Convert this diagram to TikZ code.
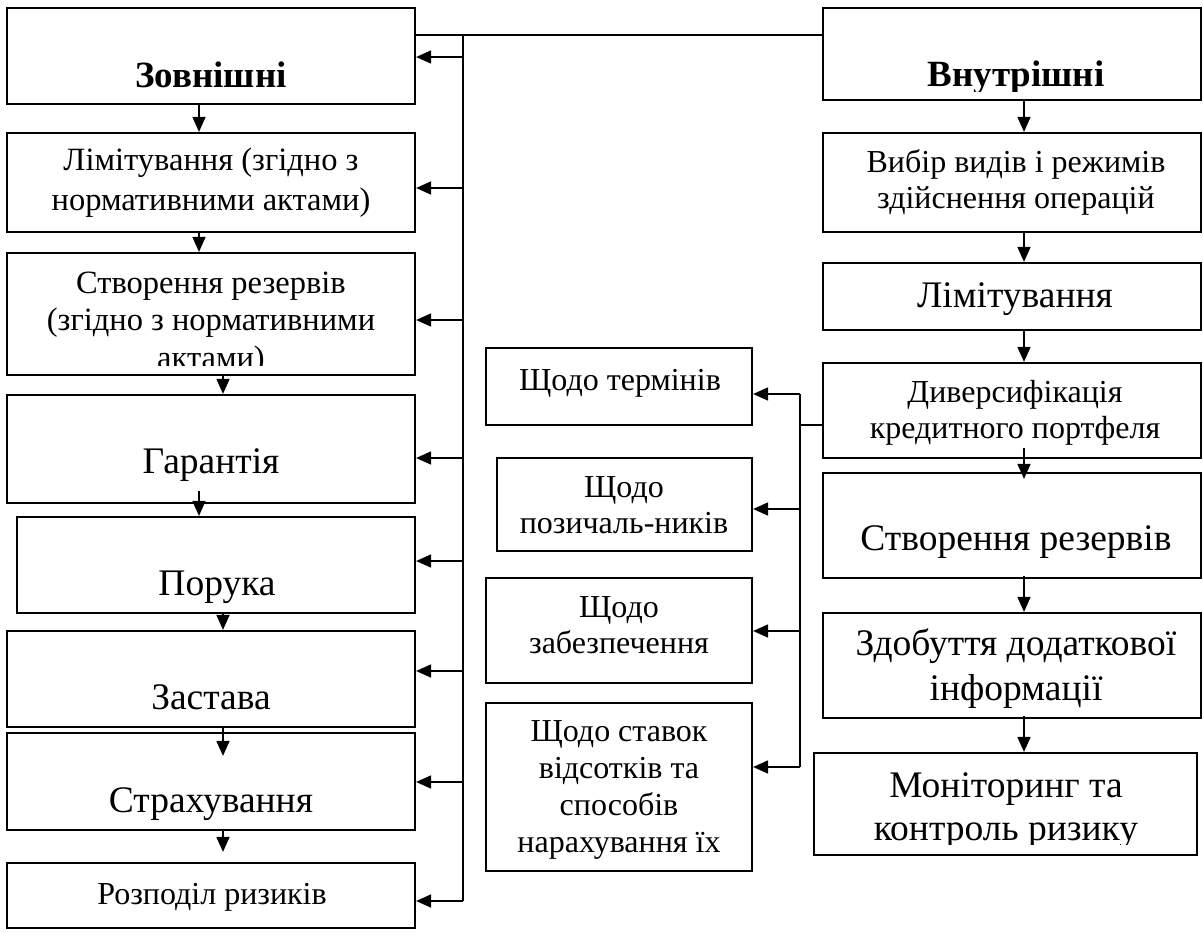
\documentclass[tikz,border=0pt]{standalone}
\usepackage{fontspec}
\setmainfont{Liberation Serif}
\usetikzlibrary{arrows.meta,calc}
\newcommand\myfs[2]{\fontsize{#1}{#2}\selectfont}
\tikzset{
  box/.style={draw, line width=2.2pt, inner sep=0pt},
  txt/.style={anchor=base, align=center, inner sep=0pt},
  ln/.style={line width=1.6pt},
  arr/.style={line width=1.6pt, -{Triangle[length=15pt,width=13pt]}},
}
\begin{document}
\begin{tikzpicture}[x=1pt,y=-1pt]
\useasboundingbox[fill=white] (0,0) rectangle (1203,932);
% left column boxes
\node[box, minimum width=408pt, minimum height=96pt]  (L1) at (211,56) {};
\node[box, minimum width=408pt, minimum height=99pt]  (L2) at (211,182.5) {};
\node[box, minimum width=408pt, minimum height=122pt] (L3) at (211,314) {};
\node[box, minimum width=408pt, minimum height=108pt] (L4) at (211,449) {};
\node[box, minimum width=398pt, minimum height=96pt]  (L5) at (216,565) {};
\node[box, minimum width=408pt, minimum height=96pt]  (L6) at (211,679) {};
\node[box, minimum width=408pt, minimum height=97pt]  (L7) at (211,781.5) {};
\node[box, minimum width=408pt, minimum height=65pt]  (L8) at (211,895.5) {};
% right column boxes
\node[box, minimum width=378pt, minimum height=92pt]  (R1) at (1012,54) {};
\node[box, minimum width=378pt, minimum height=99pt]  (R2) at (1012,182.5) {};
\node[box, minimum width=378pt, minimum height=67pt]  (R3) at (1012,296.5) {};
\node[box, minimum width=378pt, minimum height=95pt]  (R4) at (1012,410.5) {};
\node[box, minimum width=378pt, minimum height=105pt] (R5) at (1012,525.5) {};
\node[box, minimum width=378pt, minimum height=105pt] (R6) at (1012,665.5) {};
\node[box, minimum width=383pt, minimum height=102pt] (R7) at (1005.5,804) {};
% middle boxes
\node[box, minimum width=266pt, minimum height=77pt]  (S1) at (619,386.5) {};
\node[box, minimum width=255pt, minimum height=93pt]  (S2) at (624.5,504.5) {};
\node[box, minimum width=266pt, minimum height=105pt] (S3) at (619,630.5) {};
\node[box, minimum width=266pt, minimum height=168pt] (S4) at (619,787) {};

% texts (base anchor = baseline of the last line)
\begin{scope}
\clip (L1.north west) rectangle ($(L1.south east)+(0,-8)$);
\node[txt, font=\bfseries\myfs{37}{42}] (L1t) at (211,87) {Зовнішні};
\end{scope}
\node[txt, font=\myfs{32.5}{40}] (L2t) at (211,210) {Лімітування (згідно з\\нормативними актами)};
\begin{scope}
\clip (L3.north west) rectangle ($(L3.south east)+(0,-11)$);
\node[txt, font=\myfs{32.5}{37.5}] (L3t) at (211,368) {Створення резервів\\(згідно з нормативними\\актами)};
\end{scope}
\node[txt, font=\myfs{37.5}{44}] (L4t) at (211,473) {Гарантія};
\node[txt, font=\myfs{37.5}{44}] (L5t) at (217,595) {Порука};
\node[txt, font=\myfs{37.5}{44}] (L6t) at (211,709) {Застава};
\node[txt, font=\myfs{37.5}{44}] (L7t) at (211,812) {Страхування};
\node[txt, font=\myfs{32}{38}] (L8t) at (212,904) {Розподіл ризиків};

\begin{scope}
\clip (R1.north west) rectangle ($(R1.south east)+(0,-10)$);
\node[txt, font=\bfseries\myfs{37}{42}] (R1t) at (1016,86) {Внутрішні};
\end{scope}
\node[txt, font=\myfs{32}{36}] (R2t) at (1016,208) {Вибір видів і режимів\\здійснення операцій};
\node[txt, font=\myfs{37.5}{44}] (R3t) at (1015,307) {Лімітування};
\node[txt, font=\myfs{32}{36}] (R4t) at (1015,438) {Диверсифікація\\кредитного портфеля};
\node[txt, font=\myfs{37.5}{44}] (R5t) at (1016,550) {Створення резервів};
\node[txt, font=\myfs{37.5}{45}] (R6t) at (1016,700) {Здобуття додаткової\\інформації};
\begin{scope}
\clip (R7.north west) rectangle ($(R7.south east)+(0,-12)$);
\node[txt, font=\myfs{37.5}{43}] (R7t) at (1006,840) {Моніторинг та\\контроль ризику};
\end{scope}

\node[txt, font=\myfs{32}{36}] (S1t) at (620,390) {Щодо термінів};
\node[txt, font=\myfs{32}{36}] (S2t) at (624,533) {Щодо\\позичаль-ників};
\node[txt, font=\myfs{32}{36}] (S3t) at (619,653) {Щодо\\забезпечення};
\node[txt, font=\myfs{32}{36.7}] (S4t) at (619,852) {Щодо ставок\\відсотків та\\способів\\нарахування їх};

% coordinates
\coordinate (cl) at (199,0);
\coordinate (cr) at (223,0);
\coordinate (cR) at (1024,0);
\coordinate (bt) at (463,35);
\coordinate (bb) at (463,901);
\coordinate (dt) at (800,394);
\coordinate (db) at (800,767);

% top line and left bus
\draw[ln] (L1.east |- bt) -- (R1.west |- bt);
\draw[ln] (bt) -- (bb);
\foreach \n/\y in {L1/57, L2/188, L3/320, L4/458, L5/561, L6/671, L7/782, L8/901}
  \draw[arr] (bt |- 0,\y) -- (\n.east |- 0,\y);

% middle bus
\draw[ln] (R4.west |- 0,425) -- (dt |- 0,425);
\draw[ln] (dt) -- (db);
\foreach \n/\y in {S1/394, S2/509, S3/631, S4/767}
  \draw[arr] (dt |- 0,\y) -- (\n.east |- 0,\y);

% left vertical arrows
\draw[arr] (L1.south -| cl) -- (L2.north -| cl);
\draw[arr] (L2.south -| cl) -- (L3.north -| cl);
\draw[arr] (L3.south -| cr) -- (L4.north -| cr);
\draw[arr] ($(L4.south -| cl)+(0,-13)$) -- (L5.north -| cl);
\draw[arr] (L5.south -| cr) -- (L6.north -| cr);
\draw[arr] (L6.south -| cr) -- ($(L7.north -| cr)+(0,24)$);
\draw[arr] (L7.south -| cr) -- ($(L8.north -| cr)+(0,-10)$);

% right vertical arrows
\draw[arr] (R1.south -| cR) -- (R2.north -| cR);
\draw[arr] (R2.south -| cR) -- (R3.north -| cR);
\draw[arr] (R3.south -| cR) -- (R4.north -| cR);
\draw[arr] ($(R4.south -| cR)+(0,-11)$) -- ($(R5.north -| cR)+(0,7)$);
\draw[arr] ($(R5.south -| cR)+(0,-3)$) -- (R6.north -| cR);
\draw[arr] ($(R6.south -| cR)+(0,-3)$) -- (R7.north -| cR);
\end{tikzpicture}
\end{document}
